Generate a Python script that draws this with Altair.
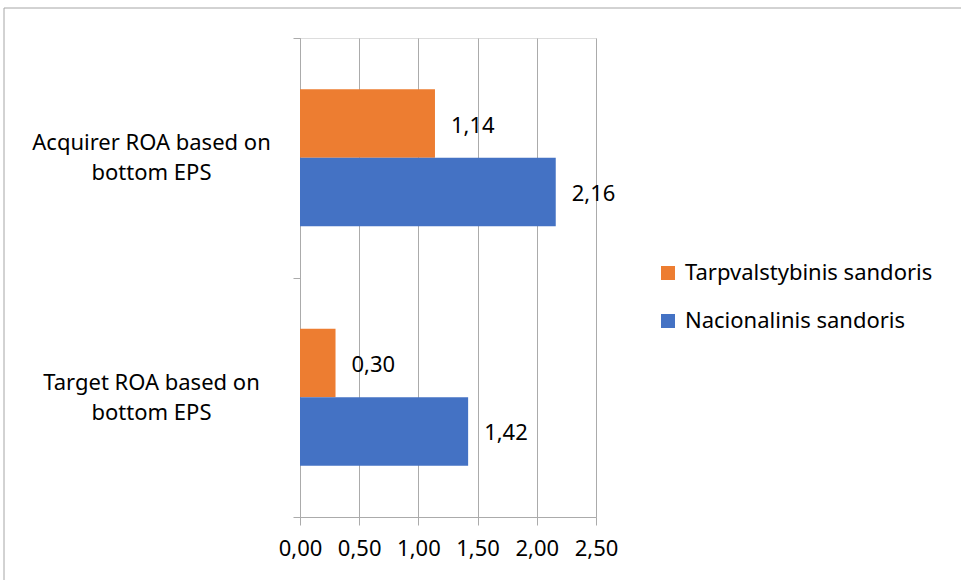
import altair as alt
import pandas as pd

# Chart values
categories = ["Acquirer ROA based on\nbottom EPS", "Target ROA based on\nbottom EPS"]
series = ["Tarpvalstybinis sandoris", "Nacionalinis sandoris"]
tarpvalstybinis = [1.14, 0.30]
nacionalinis = [2.16, 1.42]
x_ticks = [0, 0.5, 1.0, 1.5, 2.0, 2.5]
colors = ["#ED7D31", "#4472C4"]

rows = []
for cat, a, b in zip(categories, tarpvalstybinis, nacionalinis):
    rows.append({"category": cat, "series": series[0], "value": a})
    rows.append({"category": cat, "series": series[1], "value": b})
df = pd.DataFrame(rows)

FONT = "Noto Sans"
GRID = "#ABABAB"
FS = 22

y_enc = alt.Y(
    "category:N",
    sort=categories,
    title=None,
    scale=alt.Scale(paddingInner=0, paddingOuter=0),
    axis=alt.Axis(
        tickBand="extent",
        tickSize=7,
        tickColor=GRID,
        domainColor=GRID,
        labelAlign="center",
        labelBaseline="middle",
        labelPadding=142,
        labelOffset=-15,
        labelFontSize=FS,
        labelFont=FONT,
        labelColor="#000000",
        labelLineHeight=30,
        labelLimit=0,
        labelExpr="split(datum.label, '\\n')",
    ),
)
# the two series bars fill the middle of each category band
y_off = alt.YOffset(
    "series:N", sort=series, scale=alt.Scale(paddingInner=0, paddingOuter=0.75)
)
x_scale = alt.Scale(domain=[0, 2.5], nice=False)

bars = alt.Chart(df).mark_bar().encode(
    x=alt.X(
        "value:Q",
        scale=x_scale,
        title=None,
        axis=alt.Axis(
            values=x_ticks,
            grid=True,
            gridColor=GRID,
            tickColor=GRID,
            domainColor=GRID,
            tickSize=8,
            labelPadding=13,
            labelFlush=False,
            labelFontSize=FS,
            labelFont=FONT,
            labelColor="#000000",
            labelExpr="replace(format(datum.value, '.2f'), '.', ',')",
        ),
    ),
    y=y_enc,
    yOffset=y_off,
    color=alt.Color(
        "series:N",
        sort=series,
        scale=alt.Scale(domain=series, range=colors),
        legend=alt.Legend(
            title=None,
            orient="none",
            legendX=357,
            legendY=224,
            symbolType="square",
            symbolSize=196,
            symbolStrokeWidth=0,
            labelFontSize=FS,
            labelFont=FONT,
            labelColor="#000000",
            labelOffset=6,
            labelLimit=0,
            rowPadding=26,
        ),
    ),
)

labels = alt.Chart(df).transform_calculate(
    txt="replace(format(datum.value, '.2f'), '.', ',')"
).mark_text(
    align="left", baseline="middle", dx=16, dy=2, fontSize=FS, font=FONT, color="#000000"
).encode(
    x=alt.X("value:Q", scale=x_scale),
    y=alt.Y("category:N", sort=categories),
    yOffset=y_off,
    text="txt:N",
)

# outer chart frame
frame = alt.Chart(pd.DataFrame({"f": [0]})).mark_rect(
    fill="transparent", stroke="#A6A6A6", strokeWidth=1
).encode(
    x=alt.value(-296), x2=alt.value(700), y=alt.value(-30), y2=alt.value(600)
)

chart = alt.layer(frame, bars, labels).properties(
    width=296,
    height=479,
    autosize=alt.AutoSizeParams(type="none"),
    padding={"left": 300, "top": 38, "right": 365, "bottom": 63},
).configure_view(stroke=None).configure(background="white")

chart.save("out.html", embed_options={"renderer": "svg", "actions": False})
